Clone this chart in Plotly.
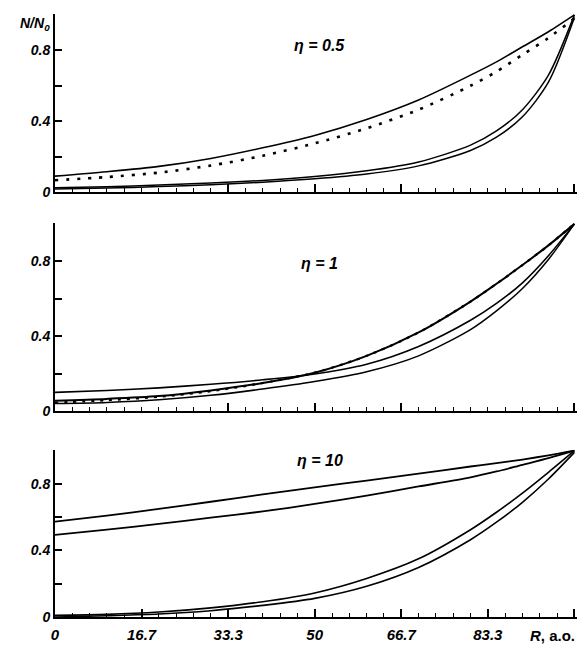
import plotly.graph_objects as go

# ---------------- data ----------------
R = [0, 10, 20, 30, 40, 50, 60, 70, 80, 85, 90, 95, 100]

# eta = 0.5 panel
eta05_solid_upper = [0.09, 0.115, 0.145, 0.19, 0.25, 0.32, 0.41, 0.52, 0.66, 0.735, 0.82, 0.905, 1.0]
eta05_dotted      = [0.067, 0.085, 0.11, 0.15, 0.205, 0.275, 0.36, 0.465, 0.6, 0.68, 0.775, 0.87, 0.98]
eta05_low_a       = [0.025, 0.03, 0.04, 0.051, 0.066, 0.088, 0.12, 0.17, 0.265, 0.345, 0.465, 0.66, 1.0]
eta05_low_b       = [0.018, 0.023, 0.031, 0.042, 0.056, 0.075, 0.102, 0.148, 0.235, 0.31, 0.425, 0.62, 0.985]

# eta = 1 panel
eta1_steep   = [0.055, 0.065, 0.08, 0.11, 0.15, 0.205, 0.295, 0.42, 0.585, 0.68, 0.78, 0.885, 1.0]
eta1_dotted  = [0.045, 0.058, 0.076, 0.106, 0.15, 0.205, 0.295, 0.42, 0.585, 0.68, 0.78, 0.885, 1.0]
eta1_flat    = [0.1, 0.11, 0.124, 0.143, 0.167, 0.198, 0.25, 0.345, 0.485, 0.575, 0.685, 0.83, 1.0]
eta1_low     = [0.04, 0.046, 0.06, 0.084, 0.118, 0.158, 0.21, 0.295, 0.435, 0.535, 0.655, 0.81, 1.0]

# eta = 10 panel
eta10_upper  = [0.573, 0.61, 0.65, 0.693, 0.737, 0.78, 0.82, 0.862, 0.905, 0.925, 0.947, 0.972, 1.0]
eta10_second = [0.494, 0.525, 0.56, 0.597, 0.635, 0.68, 0.73, 0.785, 0.84, 0.875, 0.915, 0.955, 1.0]
eta10_low_a  = [0.01, 0.016, 0.03, 0.055, 0.092, 0.145, 0.232, 0.35, 0.525, 0.63, 0.745, 0.87, 1.0]
eta10_low_b  = [0.0, 0.008, 0.018, 0.038, 0.07, 0.112, 0.185, 0.298, 0.465, 0.57, 0.69, 0.83, 0.99]

X_TICK_LABELS = ['0', '16.7', '33.3', '50', '66.7', '83.3', '']
Y_TICK_VALUES = [0, 0.2, 0.4, 0.6, 0.8, 1.0]
Y_TICK_LABELS = ['0', '', '0.4', '', '0.8', '']
PANEL_LABELS = ['<i>η</i> = 0.5', '<i>η</i> = 1', '<i>η</i> = 10']

# ---------------- figure ----------------
FAMILY = 'Liberation Sans, Arial, sans-serif'
YFONT = dict(family=FAMILY, size=14, color='black', style='italic', weight='bold')
XFONT = dict(family=FAMILY, size=15, color='black', style='italic', weight='bold')

fig = go.Figure()

def add_line(y, ax, width=1.6, dash='solid'):
    xa = 'x' if ax == 1 else f'x{ax}'
    ya = 'y' if ax == 1 else f'y{ax}'
    fig.add_trace(go.Scatter(x=R, y=y, mode='lines', xaxis=xa, yaxis=ya,
                             line=dict(color='black', width=width, dash=dash, shape='spline',
                                       smoothing=0.8),
                             showlegend=False, hoverinfo='skip', cliponaxis=False))

add_line(eta05_solid_upper, 1)
add_line(eta05_dotted, 1, width=2.6, dash='3px,8px')
add_line(eta05_low_a, 1, width=1.5)
add_line(eta05_low_b, 1, width=1.5)

add_line(eta1_flat, 2, width=1.6)
add_line(eta1_low, 2, width=1.5)
add_line(eta1_steep, 2, width=2.0)
add_line(eta1_dotted, 2, width=2.2, dash='3px,6px')

add_line(eta10_upper, 3, width=1.8)
add_line(eta10_second, 3, width=1.8)
add_line(eta10_low_a, 3, width=1.6)
add_line(eta10_low_b, 3, width=1.6)

domains = [[0.7034, 0.9935], [0.3468, 0.6532], [0.01135, 0.2836]]
tickvals_x = [i * 100 / 6 for i in range(7)]

layout = dict(
    width=581, height=647,
    margin=dict(l=55, r=4, t=10, b=20),
    paper_bgcolor='white', plot_bgcolor='white',
    font=YFONT,
)
for i, dom in enumerate(domains, start=1):
    suf = '' if i == 1 else str(i)
    layout['xaxis' + suf] = dict(
        domain=[0, 1], range=[0, 100.5], anchor='y' + suf,
        showgrid=False, zeroline=False, showline=True, linecolor='black', linewidth=2,
        ticks='inside', ticklen=8, tickwidth=1.5, tickcolor='black',
        tickmode='array', tickvals=tickvals_x,
        ticktext=X_TICK_LABELS if i == 3 else [''] * 7,
        showticklabels=(i == 3), tickfont=XFONT, ticklabelstandoff=3,
        minor=dict(tickmode='linear', tick0=0, dtick=100 / 30, ticks='inside',
                   ticklen=4, tickwidth=1.3, tickcolor='black', showgrid=False),
    )
    layout['yaxis' + suf] = dict(
        domain=dom, range=[0, 1.005], anchor='x' + suf,
        showgrid=False, zeroline=False, showline=True, linecolor='black', linewidth=2,
        ticks='inside', ticklen=7, tickwidth=1.5, tickcolor='black',
        tickmode='array', tickvals=Y_TICK_VALUES, ticktext=Y_TICK_LABELS,
        tickfont=YFONT,
    )
fig.update_layout(**layout)

anns = []
for i, lab in enumerate(PANEL_LABELS, start=1):
    suf = '' if i == 1 else str(i)
    ypos = [0.83, 0.79, 0.94][i - 1]
    anns.append(dict(x=51, y=ypos, xref='x' + suf, yref='y' + suf, text=lab,
                     showarrow=False, font=dict(YFONT, size=16), xanchor='center', yanchor='middle'))
anns.append(dict(x=-0.006, y=0.978, xref='paper', yref='paper',
                 text='<i>N/N</i><sub>0</sub>', showarrow=False,
                 font=dict(YFONT, size=14), xanchor='right', yanchor='middle'))
anns.append(dict(x=1.0, y=-0.001, xref='paper', yref='paper',
                 text='<i>R</i>, a.o.', showarrow=False,
                 font=dict(family=FAMILY, size=15, color='black', weight='bold', style='normal'),
                 xanchor='right', yanchor='top'))
fig.update_layout(annotations=anns)

fig.write_html('out.html', config={'displayModeBar': False},
               post_script="document.body.style.margin='0';document.body.style.overflow='hidden';")
